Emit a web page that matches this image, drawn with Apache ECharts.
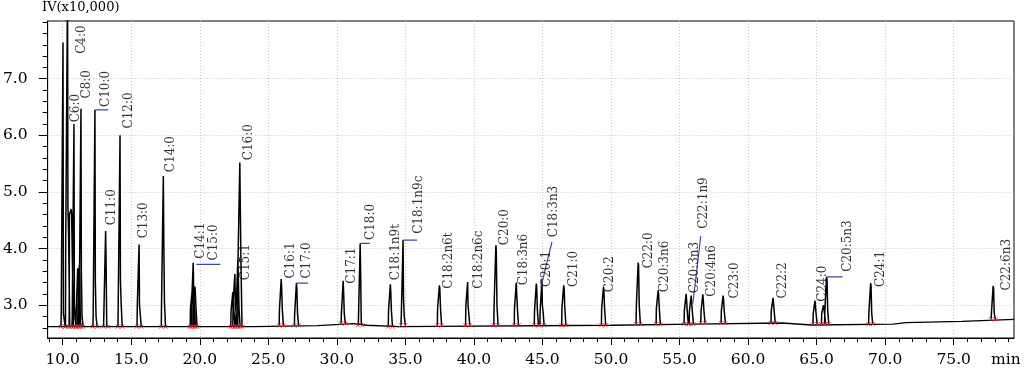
<!DOCTYPE html>
<html><head><meta charset="utf-8">
<script src="https://cdn.jsdelivr.net/npm/echarts@6/dist/echarts.min.js"></script>
<style>html,body{margin:0;padding:0;background:#fff}#c{width:1024px;height:372px}</style>
</head><body><div id="c"></div>
<script>
// ---- peaks (retention time in min, apex, shoulder and pedestal heights in x10,000 µV)
const peakRT       = [10.02,10.35,10.62,10.82,11.09,11.21,11.33,12.35,13.13,14.18,15.57,17.34,19.45,19.52,19.64,22.41,22.56,22.78,22.92,25.94,27.05,30.46,31.70,33.90,34.83,37.48,39.54,41.60,43.09,44.55,44.96,46.55,49.45,51.98,53.44,55.48,55.85,56.70,58.18,61.82,64.88,65.50,65.73,68.94,77.88];
const peakTop      = [7.64,8.60,4.70,6.20,3.65,3.70,6.47,6.45,4.31,6.00,4.07,5.28,3.27,3.75,3.33,3.23,3.55,3.82,5.52,3.46,3.39,3.43,4.09,3.37,4.15,3.35,3.41,4.06,3.40,3.38,3.44,3.35,3.32,3.75,3.26,3.20,3.17,3.19,3.17,3.13,3.08,3.00,3.50,3.39,3.34];
const peakShoulder = [2.85,4.72,4.60,3.00,3.55,3.50,3.55,3.42,3.83,3.45,3.00,4.23,3.20,3.30,3.25,3.10,3.05,3.82,4.83,3.30,3.30,3.25,3.63,3.25,3.12,3.30,3.00,3.95,3.20,3.30,3.00,3.30,3.25,3.70,3.20,3.10,3.05,3.10,3.10,3.05,3.00,2.95,3.45,3.35,3.30];
const peakPedestal = [2.85,4.20,4.60,2.75,2.70,2.70,2.80,2.80,2.65,3.05,3.00,3.06,2.95,2.95,2.95,2.90,3.05,2.95,3.82,2.92,2.85,2.85,2.70,2.90,2.82,2.95,3.00,3.00,2.95,2.90,2.90,2.95,2.95,3.00,2.95,2.90,2.90,2.90,2.90,2.90,2.85,2.85,2.90,2.85,2.85];

// ---- baseline (step starts)
const baseX = [8.9, 24.0, 28.6, 31.2, 32.2, 34.5, 50.0, 56.0, 62.5, 64.6, 70.6, 71.5, 75.6, 79.4];
const baseY = [2.62, 2.64, 2.675, 2.645, 2.62, 2.645, 2.665, 2.685, 2.65, 2.665, 2.69, 2.715, 2.75, 2.75];

// ---- peak names and where their labels sit
const labelNames = ['C4:0','C6:0','C8:0','C10:0','C11:0','C12:0','C13:0','C14:0','C14:1','C15:0','C15:1','C16:0','C16:1','C17:0','C17:1','C18:0','C18:1n9t','C18:1n9c','C18:2n6t','C18:2n6c','C20:0','C18:3n6','C20:1','C18:3n3','C21:0','C20:2','C22:0','C20:3n6','C20:3n3','C22:1n9','C20:4n6','C23:0','C22:2','C24:0','C20:5n3','C24:1','C22:6n3'];
const labelX = [11.43,10.95,11.73,13.13,13.57,14.79,15.93,17.87,20.06,21.03,23.34,23.58,26.62,27.83,31.11,32.50,34.27,35.97,38.16,40.34,42.29,43.62,45.33,45.81,47.27,49.94,52.73,53.95,56.14,56.74,57.35,59.05,62.57,65.49,67.31,69.69,78.86];
const labelY = [7.44,6.23,6.65,6.50,4.41,6.12,4.18,5.35,3.82,3.79,3.44,5.56,3.47,3.47,3.38,4.15,3.44,4.26,3.29,3.29,4.06,3.35,3.32,4.20,3.32,3.23,3.65,3.23,3.21,4.35,3.15,3.12,3.12,3.06,3.59,3.32,3.26];

// ---- leader lines (start x, start y, end x, end y)
const leaderX1 = [12.35,19.75,27.05,31.70,34.83,44.89,55.97,65.73];
const leaderY1 = [6.45,3.72,3.39,4.09,4.15,3.32,3.03,3.50];
const leaderX2 = [13.33,21.50,27.90,32.40,35.85,45.69,56.55,66.90];
const leaderY2 = [6.45,3.72,3.39,4.09,4.15,4.12,4.22,3.50];

// ---- axes
const xMin = 8.9, xMax = 79.4, yMin = 2.42, yMax = 8.02;
const xMajorTicks = [10,15,20,25,30,35,40,45,50,55,60,65,70,75];
const yMajorTicks = [3,4,5,6,7];
const xMinorTicks = []; for (let v = 9; v <= 79; v++) xMinorTicks.push(v);
const yMinorTicks = []; for (let k = 13; k <= 40; k++) yMinorTicks.push(+(k*0.2).toFixed(1));

function baseAt(t){ let v = baseY[0]; for (let i=0;i<baseX.length;i++){ if (baseX[i] <= t) v = baseY[i]; } return v; }

const baseData = baseX.map((x,i)=>[x, baseY[i]]);
const peakData = [];
const markData = [];
peakRT.forEach((rt,i)=>{
  const b = baseAt(rt), top = peakTop[i], sh = peakShoulder[i], pd = peakPedestal[i];
  peakData.push([rt-0.15,b],[rt-0.13,pd],[rt-0.04,pd],[rt,top],[rt+0.03,sh],[rt+0.07,sh],[rt+0.08,pd],[rt+0.14,pd],[rt+0.16,b],[rt+0.17,null]);
  markData.push([rt-0.17,b],[rt+0.17,b]);
});
const leaderData = [];
leaderX1.forEach((x,i)=>{ leaderData.push([x,leaderY1[i]],[leaderX2[i],leaderY2[i]],[leaderX2[i]+0.01,null]); });
const labelData = labelNames.map((n,i)=>({name:n, value:[labelX[i], labelY[i]]}));

const serif = 'DejaVu Serif';
const chart = echarts.init(document.getElementById('c'), null, {renderer:'canvas'});
chart.setOption({
  animation:false,
  backgroundColor:'#fff',
  title:[
    {text:'ÌV(x10,000)', left:42, top:1, padding:0, textStyle:{fontFamily:serif, fontSize:13, fontWeight:'normal', color:'#000'}},
    {text:'min', left:991, top:352, padding:0, textStyle:{fontFamily:serif, fontSize:15.5, fontWeight:'normal', color:'#000'}}
  ],
  grid:{left:47, right:10, top:21, bottom:34, show:true, borderColor:'#000', borderWidth:1, backgroundColor:'transparent'},
  xAxis:[
    {type:'value', min:xMin, max:xMax, position:'bottom',
     axisLine:{show:true, lineStyle:{color:'#000', width:1}},
     axisTick:{show:true, length:7, customValues:xMajorTicks, lineStyle:{color:'#000'}},
     axisLabel:{show:true, customValues:xMajorTicks, margin:14, fontFamily:serif, fontSize:15.5, color:'#000', formatter:v=>v.toFixed(1)},
     splitLine:{show:true, lineStyle:{color:'#c8c8c8', type:[1,2], width:1}}},
    {type:'value', min:xMin, max:xMax, position:'bottom',
     axisLine:{show:false}, axisLabel:{show:false}, splitLine:{show:false},
     axisTick:{show:true, length:4, customValues:xMinorTicks, lineStyle:{color:'#000'}}}
  ],
  yAxis:[
    {type:'value', min:yMin, max:yMax, position:'left',
     axisLine:{show:true, lineStyle:{color:'#000', width:1}},
     axisTick:{show:true, length:9, customValues:yMajorTicks, lineStyle:{color:'#000'}},
     axisLabel:{show:true, customValues:yMajorTicks, margin:20, fontFamily:serif, fontSize:15.5, color:'#000', formatter:v=>v.toFixed(1)},
     splitLine:{show:true, lineStyle:{color:'#c8c8c8', type:[1,2], width:1}}},
    {type:'value', min:yMin, max:yMax, position:'left',
     axisLine:{show:false}, axisLabel:{show:false}, splitLine:{show:false},
     axisTick:{show:true, length:5, customValues:yMinorTicks, lineStyle:{color:'#000'}}}
  ],
  series:[
    {type:'line', name:'baseline', data:baseData, step:'end', symbol:'none', clip:true,
     lineStyle:{color:'#000', width:1.3}},
    {type:'line', name:'peaks', data:peakData, symbol:'none', connectNulls:false, clip:true,
     lineStyle:{color:'#000', width:1.5}},
    {type:'scatter', name:'marks', data:markData, symbol:'path://M0 0L10 10M10 0L0 10', symbolSize:4,
     itemStyle:{color:'rgba(0,0,0,0)', borderColor:'#e8202a', borderWidth:1}, z:3},
    {type:'line', name:'leaders', data:leaderData, symbol:'none', connectNulls:false,
     lineStyle:{color:'#3b4a9a', width:1.2}, z:4},
    {type:'scatter', name:'labels', data:labelData, symbolSize:0, z:5,
     label:{show:true, rotate:90, position:[0,0], align:'left', verticalAlign:'middle',
       fontFamily:serif, fontSize:12, color:'#000', formatter:p=>p.name}}
  ]
});
</script></body></html>
